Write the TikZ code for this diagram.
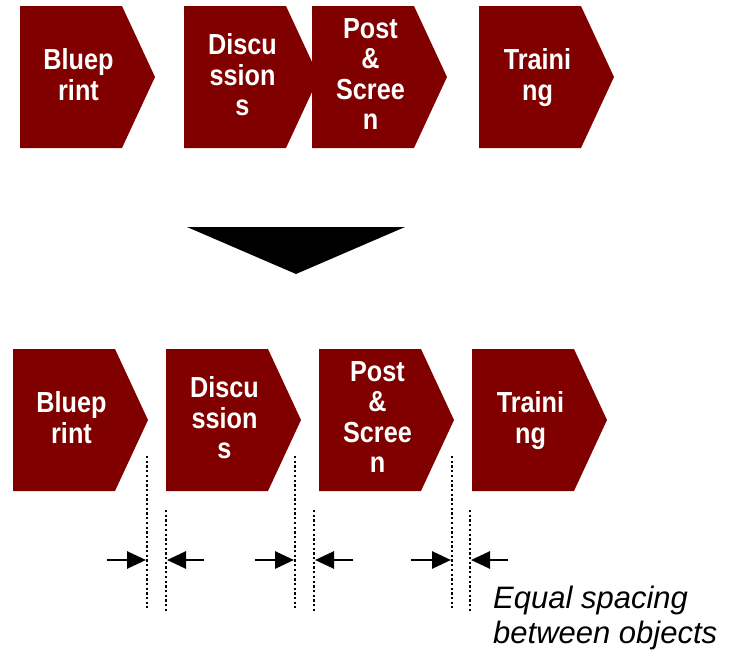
\documentclass[tikz,border=0pt]{standalone}
\usepackage{fontspec}
\newfontfamily\boxfont{Liberation Sans}[FakeStretch=0.87]
\newfontfamily\notefont{Liberation Sans}
\usetikzlibrary{arrows.meta}
\definecolor{boxred}{HTML}{800000}
\newcommand\notefontsel{\notefont\itshape\fontsize{31}{35}\selectfont}
\tikzset{
  boxtext/.style={text=white, font=\boxfont\bfseries\fontsize{29}{30.5}\selectfont,
    align=center, anchor=north, inner sep=0pt},
  chevfill/.style={fill=boxred},
  guide/.style={line width=2.6pt, dash pattern=on 2.3pt off 2.4pt},
  gap/.style={line width=2.8pt, -{Triangle[length=19pt,width=17pt]}},
  notetext/.style={font=\notefontsel, align=left, anchor=north west, inner sep=0pt},
}
\newcommand\chevshape[2]{\fill[chevfill] (#1,#2) -- ++(102,0) -- ++(33,71) -- ++(-33,71) -- ++(-102,0) -- cycle;}
\begin{document}
\begin{tikzpicture}[x=1pt,y=-1pt]
\useasboundingbox (0,0) rectangle (737,653);
% top row
\chevshape{20}{6}
\chevshape{184}{6}
\chevshape{312}{6}
\chevshape{479}{6}
\node[boxtext] (t1) at (78.5,48.75) {Bluep\\rint};
\node[boxtext] (t2) at (242.5,33.5) {Discu\\ssion\\s};
\node[boxtext] (t3) at (370.5,18.25) {Post\\\&\\Scree\\n};
\node[boxtext] (t4) at (537.5,48.75) {Traini\\ng};
% down triangle
\fill (187,227) -- (405,227) -- (296,274) -- cycle;
% bottom row
\chevshape{13}{349}
\chevshape{166}{349}
\chevshape{319}{349}
\chevshape{472}{349}
\node[boxtext] (b1) at (71.5,391.75) {Bluep\\rint};
\node[boxtext] (b2) at (224.5,376.5) {Discu\\ssion\\s};
\node[boxtext] (b3) at (377.5,361.25) {Post\\\&\\Scree\\n};
\node[boxtext] (b4) at (530.5,391.75) {Traini\\ng};
% guides
\foreach \i/\xa/\xb in {1/147/166, 2/295/314, 3/452/470}{
  \coordinate (ga\i) at (\xa,456);
  \coordinate (gb\i) at (\xa,608);
  \coordinate (gc\i) at (\xb,510);
  \coordinate (gd\i) at (\xb,612);
  \draw[guide] (ga\i) -- (gb\i);
  \draw[guide] (gc\i) -- (gd\i);
}
% arrows
\foreach \i/\ls/\le/\rs/\re in {1/107/146/204/167, 2/255/294/353/315, 3/411/451/508/471}{
  \coordinate (la\i) at (\ls,560);
  \coordinate (lb\i) at (\le,560);
  \coordinate (ra\i) at (\rs,560);
  \coordinate (rb\i) at (\re,560);
  \draw[gap] (la\i) -- (lb\i);
  \draw[gap] (ra\i) -- (rb\i);
}
\node[notetext] (note) at (493,586) {Equal spacing\\between objects};
\end{tikzpicture}
\end{document}
